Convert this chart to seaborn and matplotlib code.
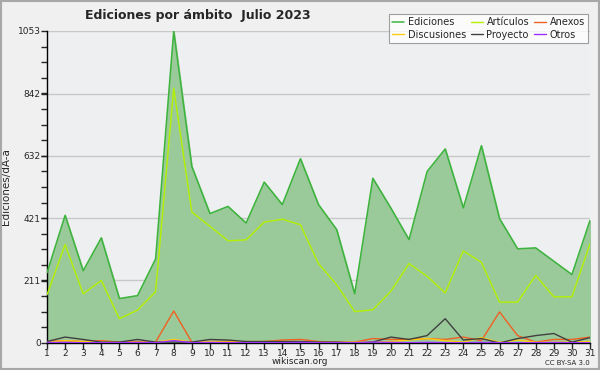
import pandas as pd
import seaborn as sns
import matplotlib.pyplot as plt
from matplotlib.ticker import MultipleLocator

days = list(range(1, 32))
ediciones = [237, 431, 244, 355, 150, 160, 284, 1053, 596, 437, 461, 405, 543, 467, 622,
             467, 383, 166, 556, 455, 349, 579, 655, 456, 666, 420, 318, 321, 276, 231, 414]
articulos = [163, 332, 166, 211, 82, 111, 173, 860, 442, 394, 345, 348, 408, 418, 399,
             268, 197, 106, 112, 175, 268, 225, 169, 311, 272, 138, 138, 228, 156, 156, 335]
anexos = [5, 8, 5, 8, 3, 5, 3, 108, 3, 5, 5, 3, 5, 10, 12,
          5, 3, 3, 15, 12, 12, 15, 12, 20, 8, 105, 25, 3, 12, 12, 20]
discusiones = [3, 8, 5, 3, 2, 3, 3, 12, 3, 5, 3, 5, 5, 5, 5,
               2, 2, 2, 3, 5, 10, 15, 8, 3, 18, 2, 10, 2, 3, 3, 5]
proyecto = [5, 20, 12, 3, 3, 12, 3, 3, 3, 12, 10, 5, 5, 5, 5,
            3, 3, 0, 3, 20, 12, 25, 82, 10, 15, 0, 15, 25, 32, 3, 18]
otros = [2, 2, 1, 1, 1, 2, 1, 8, 1, 2, 1, 1, 1, 1, 2,
         1, 1, 1, 3, 2, 1, 2, 1, 1, 2, 1, 1, 1, 2, 1, 1]

y_ticks = [0, 211, 421, 632, 842, 1053]

sns.set_style("white")
plt.rcParams["font.family"] = ["DejaVu Sans"]

fig = plt.figure(figsize=(6, 3.7), dpi=100, facecolor="#f0f0f0")
ax = fig.add_axes([47 / 600, 1 - 343 / 370, 543 / 600, 312 / 370])
ax.set_facecolor("#eeeff1")

# frame around the whole picture
fig.patches.append(plt.Rectangle((0.002, 0.003), 0.996, 0.994, transform=fig.transFigure,
                                 fill=False, edgecolor="#a8a8a8", linewidth=1.5))

df = pd.DataFrame({"dia": days, "Ediciones": ediciones, "Artículos": articulos,
                   "Anexos": anexos, "Discusiones": discusiones,
                   "Proyecto": proyecto, "Otros": otros})

ax.fill_between(df["dia"], 0, df["Ediciones"], color="#9aca9a", zorder=1)

series = [
    ("Ediciones", "#3cb43c", 1.1),
    ("Artículos", "#b4f000", 1.0),
    ("Anexos", "#f06020", 1.0),
    ("Discusiones", "#ffcc10", 1.0),
    ("Proyecto", "#404040", 1.0),
    ("Otros", "#9a30ff", 1.0),
]
for name, color, lw in series:
    sns.lineplot(data=df, x="dia", y=name, color=color, linewidth=lw, ax=ax,
                 label=name, zorder=3)

ax.set_xlim(1, 31)
ax.set_ylim(0, 1053)
ax.set_xticks(days)
ax.set_yticks(y_ticks)
ax.yaxis.set_minor_locator(MultipleLocator(1053 / 20))
ax.grid(True, axis="y", color="#c8c8c8", linewidth=1, zorder=0)
ax.set_axisbelow(True)
ax.tick_params(axis="both", which="major", labelsize=6.5, length=4, width=1,
               direction="out", left=True, bottom=True, pad=0.5)
ax.tick_params(axis="y", which="minor", length=4, width=1, left=True)
for s in ["top", "right"]:
    ax.spines[s].set_visible(False)
for s in ["left", "bottom"]:
    ax.spines[s].set_color("black")
    ax.spines[s].set_linewidth(1)

ax.set_xlabel("")
ax.set_ylabel("Ediciones/dÃ-a", fontsize=7.5)
ax.yaxis.set_label_coords(-0.066, 0.5)

# legend order so that columns read row-wise like the reference
handles, labels = ax.get_legend_handles_labels()
order = [0, 3, 1, 4, 2, 5]
leg = fig.legend([handles[i] for i in order], [labels[i] for i in order],
                 loc="upper right", bbox_to_anchor=(593 / 600, 1 - 9 / 370),
                 ncol=3, fontsize=7, frameon=True, fancybox=False,
                 handlelength=1.2, handletextpad=0.4, columnspacing=0.5,
                 labelspacing=0.25, borderpad=0.35)
leg.get_frame().set_edgecolor("#888888")
leg.get_frame().set_facecolor("white")
leg.get_frame().set_linewidth(0.8)
ax.get_legend().remove()

fig.text(85 / 600, 1 - 15 / 370, "Ediciones por ámbito  Julio 2023", fontsize=9,
         fontweight="bold", ha="left", va="center")
fig.text(300 / 600, 1 - 362 / 370, "wikiscan.org", fontsize=6.5, ha="center", va="center")
fig.text(590 / 600, 1 - 363 / 370, "CC BY-SA 3.0", fontsize=5, ha="right", va="center")

fig.savefig("out.png", dpi=100, facecolor=fig.get_facecolor())
